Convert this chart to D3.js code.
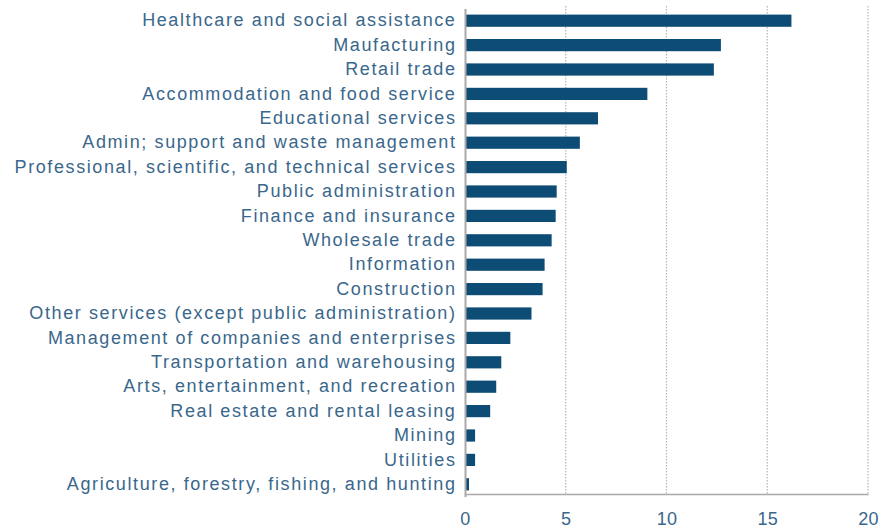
<!DOCTYPE html>
<html><head><meta charset="utf-8">
<script src="https://cdn.jsdelivr.net/npm/d3@7"></script>
<style>body{margin:0;background:#fff}svg{display:block}</style>
</head><body>
<svg id="c" width="888" height="529"></svg>
<script>
const categories = ["Healthcare and social assistance","Maufacturing","Retail trade","Accommodation and food service","Educational services","Admin; support and waste management","Professional, scientific, and technical services","Public administration","Finance and insurance","Wholesale trade","Information","Construction","Other services (except public administration)","Management of companies and enterprises","Transportation and warehousing","Arts, entertainment, and recreation","Real estate and rental leasing","Mining","Utilities","Agriculture, forestry, fishing, and hunting"];
const values = [16.2,12.7,12.35,9.05,6.6,5.7,5.05,4.55,4.5,4.3,3.95,3.85,3.3,2.25,1.8,1.55,1.25,0.5,0.5,0.2];
const xTicks = [0,5,10,15,20];

const svg = d3.select("#c");
const W = 888, H = 529;
const m = {left:465, top:6, bottom:35};
const x = d3.scaleLinear().domain([0,20]).range([m.left, 868]);
const y = d3.scaleBand().domain(categories).range([8.5, 496.5]).paddingInner(0.5).paddingOuter(0.25);
const textCol = "#3a678c";
const font = "'Liberation Sans', Arial, sans-serif";

// grid
svg.append("g").selectAll("line").data(xTicks.slice(1)).join("line")
  .attr("x1", d=>x(d)).attr("x2", d=>x(d))
  .attr("y1", m.top).attr("y2", H-m.bottom)
  .attr("stroke", "#b5b5b5").attr("stroke-width", 1.2).attr("stroke-dasharray", "1.5,1.5");

// bars
svg.append("g").selectAll("rect").data(values).join("rect")
  .attr("x", x(0)).attr("y", (d,i)=>y(categories[i]))
  .attr("width", d=>x(d)-x(0)).attr("height", y.bandwidth())
  .attr("fill", "#0d4c75");

// x axis
const xa = svg.append("g").attr("transform", `translate(0,${H-m.bottom})`)
  .call(d3.axisBottom(x).tickValues(xTicks).tickSize(0).tickPadding(18));
xa.select(".domain").attr("stroke", "#a9a9a9").attr("stroke-width", 1.5);
xa.selectAll("text").attr("fill", textCol).attr("font-size", "18px").attr("font-family", font).attr("letter-spacing", "0.3px");

// y axis
const ya = svg.append("g").attr("transform", `translate(${x(0)},0)`)
  .call(d3.axisLeft(y).tickSize(0).tickPadding(8.5));
ya.select(".domain").attr("stroke", "#a9a9a9").attr("stroke-width", 2);
ya.selectAll("text").attr("fill", textCol).attr("font-size", "18px").attr("font-family", font).attr("letter-spacing", "1.6px");
</script>
</body></html>
